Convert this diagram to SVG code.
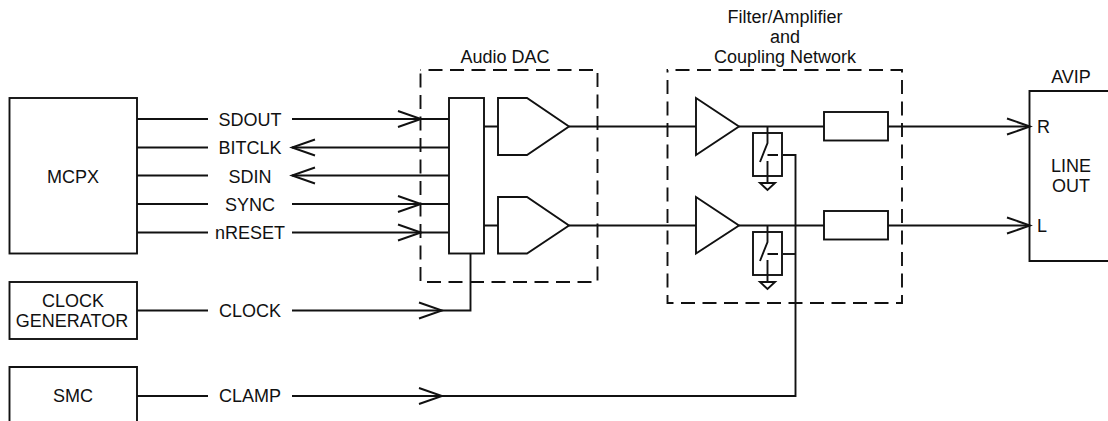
<svg xmlns="http://www.w3.org/2000/svg" width="1108" height="421" viewBox="0 0 1108 421">
<style>
.s{fill:none;stroke:#111;stroke-width:1.9;stroke-linejoin:miter}
.d{fill:none;stroke:#111;stroke-width:1.9;stroke-dasharray:14 7.500;stroke-dashoffset:-8}
text{font-family:"Liberation Sans",Arial,sans-serif;font-size:18px;fill:#111;text-anchor:middle}
.l{text-anchor:start}
</style>
<g id="connectors" class="s">
<path d="M137 119H208M292 119H449" />
<path d="M398 111L421 119L398 127" />
<path d="M137 147.500H208M449 147.500H292" />
<path d="M315 139.500L292 147.500L315 155.500" />
<path d="M137 175.500H208M449 175.500H292" />
<path d="M315 167.500L292 175.500L315 183.500" />
<path d="M137 204H208M292 204H449" />
<path d="M398 196L421 204L398 212" />
<path d="M137 232.500H208M292 232.500H449" />
<path d="M398 224.500L421 232.500L398 240.500" />
<path d="M137 310.500H208M292 310.500H470.500V253.500" />
<path d="M419 302.500L442 310.500L419 318.500" />
<path d="M137 396H208M292 396H795.500V155H783" />
<path d="M419 388L442 396L419 404" />
<path d="M795.500 254H783" />
<path d="M484 126.500H498M569 126.500H696M739 126.500H824M888 126.500H1029" />
<path d="M1007 118.500L1030 126.500L1007 134.500" />
<path d="M484 225.500H498M569 225.500H696M739 225.500H824M888 225.500H1029" />
<path d="M1007 217.500L1030 225.500L1007 233.500" />
</g>
<g id="mcpx"><rect class="s" x="9.500" y="98" width="127.500" height="155.500"/><text x="73" y="183">MCPX</text></g>
<g id="clock-generator"><rect class="s" x="9.500" y="282" width="127.500" height="57"/><text x="73" y="307">CLOCK</text><text x="72" y="327">GENERATOR</text></g>
<g id="smc"><path class="s" d="M9.500 425V367H137V425"/><text x="73" y="402">SMC</text></g>
<g id="labels">
<text x="250" y="125.500">SDOUT</text><text x="250" y="154">BITCLK</text><text x="250" y="182.500">SDIN</text><text x="250" y="211">SYNC</text><text x="250" y="238.500">nRESET</text><text x="250" y="317">CLOCK</text><text x="250" y="402">CLAMP</text>
</g>
<g id="audio-dac"><rect class="d" x="420.500" y="70" width="177" height="212"/><text x="505" y="62.500">Audio DAC</text>
<rect class="s" x="449" y="98" width="35" height="155.500"/>
<path class="s" d="M498 98H527L569 126.500L527 155H498Z"/>
<path class="s" d="M498 197H527L569 225.500L527 253.500H498Z"/></g>
<g id="filter-network"><rect class="d" x="667.500" y="70" width="234.500" height="233"/>
<text x="785" y="22.500">Filter/Amplifier</text><text x="785" y="42.500">and</text><text x="785" y="62.500">Coupling Network</text>
<path class="s" d="M696 98L739 126.500L696 155Z"/><path class="s" d="M696 197L739 225.500L696 253.500Z"/>
<rect class="s" x="824" y="112" width="64" height="28.500"/><rect class="s" x="824" y="211" width="64" height="28.500"/>
<rect class="s" x="753" y="133" width="29" height="43"/><rect class="s" x="753" y="232" width="29" height="43"/>
<path class="s" d="M767.500 127V143L760 162M767.500 161V183M767.500 155H778"/>
<path class="s" d="M760 183H775L767.500 190Z"/>
<path class="s" d="M767.500 226V242L760 261M767.500 260V282M767.500 254H778"/>
<path class="s" d="M760 282H775L767.500 289Z"/></g>
<g id="avip"><path class="s" d="M1110 91H1029.500V261H1110"/><text x="1071" y="83">AVIP</text><text class="l" x="1037" y="133">R</text><text class="l" x="1037" y="232">L</text><text x="1071" y="172">LINE</text><text x="1071" y="192">OUT</text></g>
</svg>
